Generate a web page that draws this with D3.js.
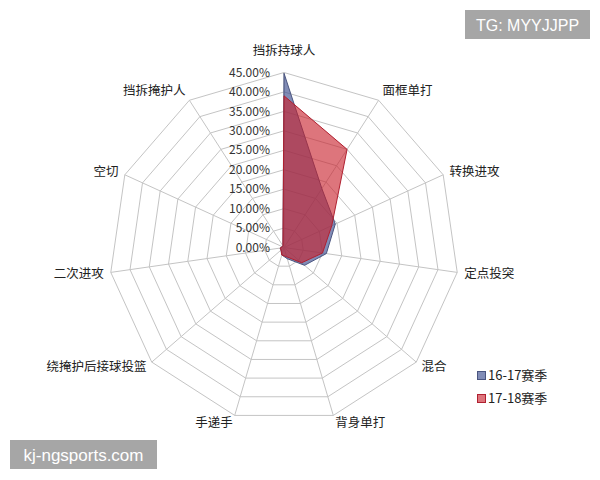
<!DOCTYPE html>
<html><head><meta charset="utf-8">
<script src="https://cdn.jsdelivr.net/npm/d3@7"></script>
<style>body{margin:0;background:#fff}svg{display:block}</style>
</head><body>
<script>
const categories = ['挡拆持球人','面框单打','转换进攻','定点投突','混合','背身单打','手递手','绕掩护后接球投篮','二次进攻','空切','挡拆掩护人'];
const seriesNames = ['16-17赛季','17-18赛季'];
const values1617 = [44.8, 18, 14.5, 11, 7, 3, 2, 1, 1, 0.5, 0.5];
const values1718 = [39, 30, 13.5, 10, 6, 2.5, 2, 1, 1, 0.5, 0.5];
const tickValues = [0,5,10,15,20,25,30,35,40,45];

const W=600,H=480, cx=284, cy=247.5, R=175;
const svg=d3.select('body').append('svg').attr('width',W).attr('height',H);
const rScale=d3.scaleLinear().domain([0,45]).range([0,R]);
const n=categories.length;
const ang=d3.scaleLinear().domain([0,n]).range([0,2*Math.PI]);
const pt=(i,v)=>[cx+rScale(v)*Math.sin(ang(i)), cy-rScale(v)*Math.cos(ang(i))];

const g=svg.append('g');
// rings
tickValues.slice(1).forEach(t=>{
  g.append('polygon').attr('points',d3.range(n).map(i=>pt(i,t).join(',')).join(' '))
   .attr('fill','none').attr('stroke','#c4c4c4').attr('stroke-width',1);
});
// spokes
d3.range(n).forEach(i=>{
  const p=pt(i,45);
  g.append('line').attr('x1',cx).attr('y1',cy).attr('x2',p[0]).attr('y2',p[1])
   .attr('stroke','#c4c4c4').attr('stroke-width',1);
});
// series
const line=d3.lineRadial().angle((d,i)=>ang(i)).radius(d=>rScale(d)).curve(d3.curveLinearClosed);
const series=[
  {vals:values1617, fill:'#3d4f8f', op:0.65, stroke:'#4a5580'},
  {vals:values1718, fill:'#c8202c', op:0.62, stroke:'#b02030'}
];
series.forEach(s=>{
  svg.append('path').attr('transform',`translate(${cx},${cy})`).attr('d',line(s.vals))
    .attr('fill',s.fill).attr('fill-opacity',s.op).attr('stroke',s.stroke).attr('stroke-width',1);
});
// tick labels
svg.append('g').selectAll('text').data(tickValues).join('text')
  .attr('x',cx-14).attr('y',d=>cy-rScale(d)).attr('dy','0.35em')
  .attr('text-anchor','end').attr('font-family','"Noto Sans CJK SC","Noto Sans",sans-serif')
  .attr('font-size',12).attr('fill','#333').text(d=>d.toFixed(2)+'%');
// category labels
svg.append('g').selectAll('text').data(categories).join('text')
  .each(function(d,i){
    const a=ang(i), s=Math.sin(a), c=Math.cos(a);
    let x=cx+(R+7)*s, y=cy-(R+7)*c;
    let anchor = s>0.1?'start':(s<-0.1?'end':'middle');
    if(i===0){y=cy-R-22;}
    if(i===1||i===10){y-=4;}
    d3.select(this).attr('x',x).attr('y',y).attr('dy','0.35em').attr('text-anchor',anchor);
  })
  .attr('font-family','"Noto Sans CJK SC",sans-serif').attr('font-size',12.5).attr('fill','#222')
  .text(d=>d);
// legend
const leg=svg.append('g').attr('transform','translate(477,371)');
seriesNames.forEach((nm,i)=>{
  const s=series[i];
  const gg=leg.append('g').attr('transform',`translate(0,${i*23})`);
  gg.append('rect').attr('x',0.5).attr('y',0.5).attr('width',8).attr('height',8)
    .attr('fill',s.fill).attr('fill-opacity',s.op).attr('stroke',s.stroke);
  gg.append('text').attr('x',11).attr('y',4.5).attr('dy','0.35em')
    .attr('font-family','"Noto Sans CJK SC",sans-serif').attr('font-size',13).attr('fill','#222').text(nm);
});
// watermarks
svg.append('rect').attr('x',465).attr('y',10).attr('width',125).attr('height',29).attr('fill','#a6a6a6');
svg.append('text').attr('x',527.5).attr('y',25).attr('dy','0.35em').attr('text-anchor','middle')
  .attr('font-family','"Liberation Sans",Arial,sans-serif').attr('font-size',16).attr('fill','#fff').text('TG: MYYJJPP');
svg.append('rect').attr('x',10).attr('y',440).attr('width',147).attr('height',29).attr('fill','#a6a6a6');
svg.append('text').attr('x',83.5).attr('y',455).attr('dy','0.35em').attr('text-anchor','middle')
  .attr('font-family','"Liberation Sans",Arial,sans-serif').attr('font-size',17).attr('fill','#fff').text('kj-ngsports.com');
</script>
</body></html>
